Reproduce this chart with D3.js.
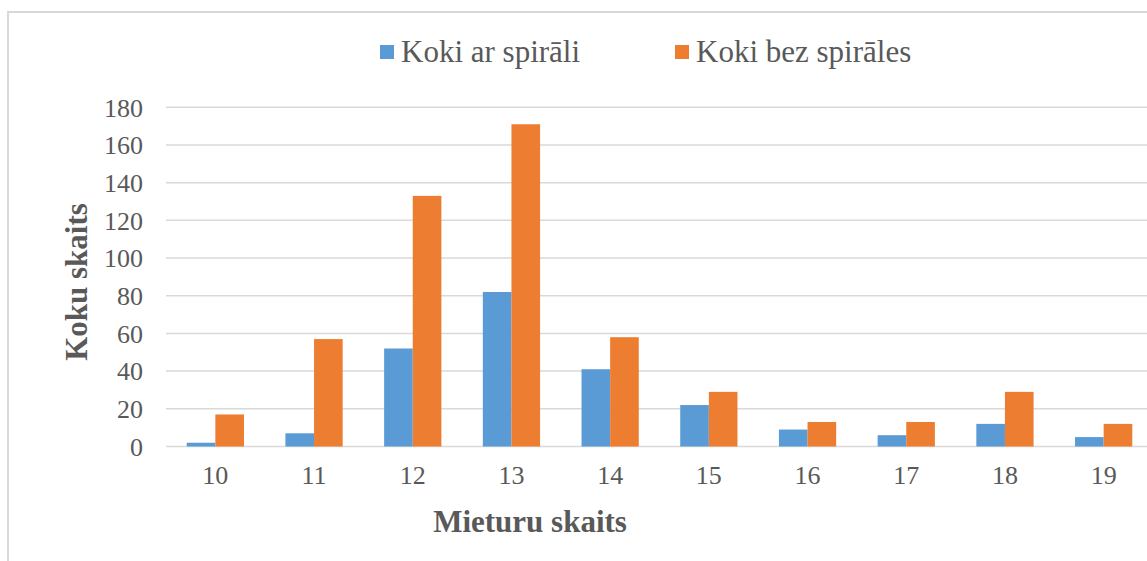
<!DOCTYPE html>
<html lang="lv">
<head>
    <meta charset="UTF-8">
    <title>Koku skaits pēc mieturu skaita</title>
    <script src="https://d3js.org/d3.v7.min.js"></script>
    <style>
        body { margin: 0; background: #fff; }
        svg { display: block; }
        text { font-family: "Liberation Serif", "Times New Roman", serif; fill: #595959; }
    </style>
</head>
<body>
    <svg width="1147" height="561"></svg>

    <script>
        // dati
        var categories = ["10", "11", "12", "13", "14", "15", "16", "17", "18", "19"];
        var seriesNames = ["Koki ar spirāli", "Koki bez spirāles"];
        var withSpiral = [2, 7, 52, 82, 41, 22, 9, 6, 12, 5];
        var withoutSpiral = [17, 57, 133, 171, 58, 29, 13, 13, 29, 12];
        var yTicks = [0, 20, 40, 60, 80, 100, 120, 140, 160, 180];
        var colors = ["#5b9bd5", "#ed7d31"];

        var svg = d3.select("svg");

        // ārējais rāmis
        svg.append("rect")
           .attr("x", 8).attr("y", 12)
           .attr("width", 1200).attr("height", 600)
           .attr("fill", "#fff")
           .attr("stroke", "#d9d9d9")
           .attr("stroke-width", 2);

        var plotLeft = 166, plotRight = 1153, plotTop = 107.3, plotBottom = 446.5;

        var x = d3.scaleBand()
                  .domain(categories)
                  .range([plotLeft, plotRight])
                  .paddingInner(0.42)
                  .paddingOuter(0.21);

        var xSub = d3.scaleBand()
                     .domain([0, 1])
                     .range([0, x.bandwidth()]);

        var y = d3.scaleLinear()
                  .domain([0, 180])
                  .range([plotBottom, plotTop]);

        // režģa līnijas
        svg.append("g")
           .selectAll("line")
           .data(yTicks)
           .enter()
           .append("line")
           .attr("x1", plotLeft)
           .attr("x2", 1147)
           .attr("y1", function(d) { return y(d); })
           .attr("y2", function(d) { return y(d); })
           .attr("stroke", "#d9d9d9")
           .attr("stroke-width", 1.5);

        // y ass
        var yAxis = svg.append("g")
                       .attr("transform", "translate(143,0)")
                       .call(d3.axisLeft(y).tickValues(yTicks).tickSize(0).tickPadding(0));
        yAxis.select(".domain").remove();
        yAxis.selectAll("text")
             .attr("font-size", "26px")
             .attr("dy", "0.34em");

        // x ass
        var xAxis = svg.append("g")
                       .attr("transform", "translate(0," + plotBottom + ")")
                       .call(d3.axisBottom(x).tickSize(0).tickPadding(0));
        xAxis.select(".domain").remove();
        xAxis.selectAll("text")
             .attr("font-size", "26px")
             .attr("dy", null)
             .attr("y", 37);

        // stabiņi
        var rows = categories.map(function(c, i) {
            return { cat: c, vals: [withSpiral[i], withoutSpiral[i]] };
        });

        var groups = svg.append("g")
                        .selectAll("g")
                        .data(rows)
                        .enter()
                        .append("g")
                        .attr("transform", function(d) { return "translate(" + x(d.cat) + ",0)"; });

        groups.selectAll("rect")
              .data(function(d) { return d.vals; })
              .enter()
              .append("rect")
              .attr("x", function(d, i) { return xSub(i); })
              .attr("width", xSub.bandwidth())
              .attr("y", function(d) { return y(d); })
              .attr("height", function(d) { return plotBottom - y(d); })
              .attr("fill", function(d, i) { return colors[i]; });

        // leģenda
        var legendX = [380, 675];
        var legend = svg.append("g")
                        .selectAll("g")
                        .data(seriesNames)
                        .enter()
                        .append("g")
                        .attr("transform", function(d, i) { return "translate(" + legendX[i] + ",0)"; });

        legend.append("rect")
              .attr("x", 0).attr("y", 45)
              .attr("width", 14).attr("height", 14)
              .attr("fill", function(d, i) { return colors[i]; });

        legend.append("text")
              .attr("x", 21).attr("y", 62)
              .attr("font-size", "31px")
              .text(function(d) { return d; });

        // asu nosaukumi
        svg.append("text")
           .attr("transform", "translate(87,282) rotate(-90)")
           .attr("text-anchor", "middle")
           .attr("font-size", "31px")
           .attr("font-weight", "bold")
           .text("Koku skaits");

        svg.append("text")
           .attr("x", 530).attr("y", 532)
           .attr("text-anchor", "middle")
           .attr("font-size", "31px")
           .attr("font-weight", "bold")
           .text("Mieturu skaits");
    </script>
</body>
</html>
